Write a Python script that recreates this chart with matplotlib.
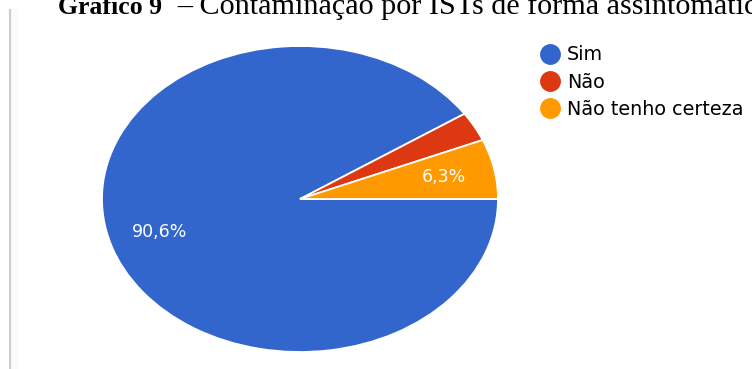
import matplotlib
matplotlib.use("Agg")
import matplotlib.pyplot as plt
from matplotlib.lines import Line2D

# Survey answers and their shares (%)
categories = ["Sim", "Não", "Não tenho certeza"]
shares = [90.6, 3.1, 6.3]
colors = ["#3366cc", "#dc3912", "#ff9900"]

title_bold = "Gráfico 9"
title_rest = "– Contaminação por ISTs de forma assintomática"

W, H = 752, 369
fig = plt.figure(figsize=(W / 100, H / 100), dpi=100)
fig.patch.set_facecolor("white")


def px_axes(x0, y0, x1, y1):
    """Axes placed by pixel box (top-left origin)."""
    return fig.add_axes([x0 / W, 1 - y1 / H, (x1 - x0) / W, (y1 - y0) / H])


# Elliptical pie: the axes box is wider than tall and aspect stays auto
ax = px_axes(102, 46, 498, 352)


def pct_label(p):
    return f"{p:.1f}".replace(".", ",") + "%" if p >= 5 else ""


wedges, _, autotexts = ax.pie(
    shares,
    colors=colors,
    startangle=0,
    counterclock=False,
    radius=1.0,
    autopct=pct_label,
    pctdistance=0.74,
    wedgeprops=dict(edgecolor="white", linewidth=1.3),
    textprops=dict(color="white", fontsize=12.5, family="DejaVu Sans"),
)
ax.set_aspect("auto")
ax.set_xlim(-1, 1)
ax.set_ylim(-1, 1)
ax.axis("off")

# Legend with round swatches
handles = [
    Line2D([], [], marker="o", linestyle="none", markersize=14,
           markerfacecolor=c, markeredgecolor=c)
    for c in colors
]
fig.legend(
    handles, categories,
    loc="upper left",
    bbox_to_anchor=(540 / W, 1 - 45.5 / H),
    frameon=False,
    prop=dict(family="DejaVu Sans", size=13.8),
    handlelength=1.0,
    handletextpad=0.42,
    labelspacing=0.42,
    borderpad=0,
    borderaxespad=0,
)

# Left border line of the chart card
line_ax = px_axes(0, 0, W, H)
line_ax.set_xlim(0, W)
line_ax.set_ylim(H, 0)
line_ax.axis("off")
line_ax.patch.set_alpha(0)
for i, a in enumerate([0.9, 0.08, 0.05, 0.03]):
    line_ax.axvline(9.5 + i * 2.5, ymin=0, ymax=1 - 10 / H,
                    color="#c8c8c8", alpha=a, linewidth=1.5 if i == 0 else 2.5)
line_ax.set_zorder(-1)

# Caption heading, cut by the top edge
fig.text(58 / W, 1 - 14 / H, title_bold, family="Liberation Serif",
         weight="bold", fontsize=18.5, va="baseline", ha="left", color="black")
fig.text(177 / W, 1 - 14 / H, title_rest, family="Liberation Serif",
         fontsize=21.7, va="baseline", ha="left", color="black")

fig.savefig("out.png", dpi=100, facecolor="white")
